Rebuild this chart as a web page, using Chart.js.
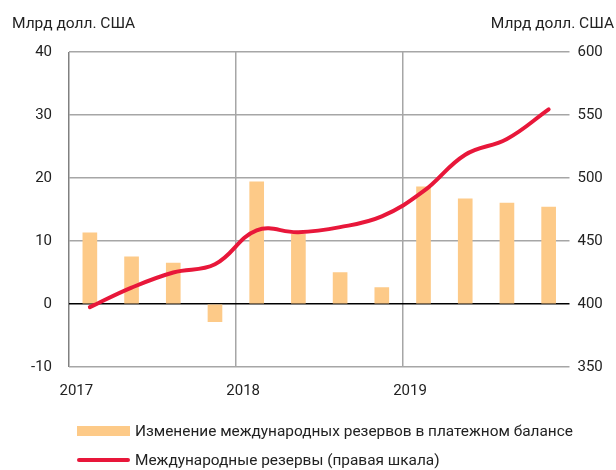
<!DOCTYPE html>
<html>
<head>
<meta charset="utf-8">
<script src="https://cdn.jsdelivr.net/npm/chart.js@4/dist/chart.umd.min.js"></script>
<style>
  body { margin: 0; background: #fff; }
  #wrap { position: relative; width: 616px; height: 470px; font-family: Roboto, sans-serif; color: #222; }
  .legend { position: absolute; left: 77px; font-size: 15.4px; display: flex; align-items: center; white-space: nowrap; }
  .legend span.key { display: inline-block; width: 53px; margin-right: 5px; }
</style>
</head>
<body>
<div id="wrap">
  <canvas id="grafico" width="616" height="470"></canvas>
  <div class="legend" id="leg1" style="top:422px"><span class="key" style="height:10px;background:#fdca88"></span><span id="leg1txt"></span></div>
  <div class="legend" id="leg2" style="top:451px"><span class="key" style="height:4px;border-radius:2px;background:#e8173a"></span><span id="leg2txt"></span></div>
</div>
<script>
// Кварталы 2017-2019
const kvartaly = ['I 2017', 'II 2017', 'III 2017', 'IV 2017',
                  'I 2018', 'II 2018', 'III 2018', 'IV 2018',
                  'I 2019', 'II 2019', 'III 2019', 'IV 2019'];
const gody = ['2017', '2018', '2019'];

// Изменение резервов по платежному балансу, млрд долл.
const izmenenie = [11.3, 7.5, 6.5, -2.8, 19.4, 11.1, 5.0, 2.6, 18.6, 16.7, 16.0, 15.4];
// Международные резервы, млрд долл. (правая шкала)
const rezervy = [397.5, 413, 425, 431.5, 458.5, 457, 461, 469.5, 489.5, 518.5, 531, 554.5];

const nazvanieBar = 'Изменение международных резервов в платежном балансе';
const nazvanieLine = 'Международные резервы (правая шкала)';
const edinicy = 'Млрд долл. США';

document.getElementById('leg1txt').textContent = nazvanieBar;
document.getElementById('leg2txt').textContent = nazvanieLine;

const shrift = { family: 'Roboto', size: 15 };

// подписи единиц над осями
const podpisi = {
  id: 'podpisi',
  afterDraw(chart) {
    const c = chart.ctx;
    c.save();
    c.font = '15.5px Roboto';
    c.fillStyle = '#222';
    c.textBaseline = 'alphabetic';
    c.textAlign = 'left';
    c.fillText(edinicy, 12, 28);
    c.textAlign = 'right';
    c.fillText(edinicy, 614, 28);
    c.restore();
  }
};

const ctx = document.getElementById('grafico').getContext('2d');
new Chart(ctx, {
  data: {
    labels: kvartaly,
    datasets: [
      {
        type: 'line',
        label: nazvanieLine,
        data: rezervy,
        yAxisID: 'y2',
        borderColor: '#e8173a',
        borderWidth: 4,
        borderCapStyle: 'round',
        pointRadius: 0,
        tension: 0.4,
        order: 0
      },
      {
        type: 'bar',
        label: nazvanieBar,
        data: izmenenie,
        yAxisID: 'y',
        backgroundColor: '#fdca88',
        barThickness: 14,
        order: 1
      }
    ]
  },
  options: {
    responsive: false,
    animation: false,
    devicePixelRatio: 1,
    layout: { padding: { top: 52, bottom: 73, left: 0, right: 0 } },
    plugins: { legend: { display: false }, tooltip: { enabled: false } },
    scales: {
      x: {
        offset: true,
        grid: {
          offset: true,
          drawTicks: false,
          lineWidth: 1.5,
          color: c => (c.index % 4 === 0 ? (c.index === 0 ? '#808080' : '#a6a6a6') : 'rgba(0,0,0,0)')
        },
        border: { display: false },
        ticks: {
          autoSkip: false,
          maxRotation: 0,
          padding: 15,
          labelOffset: -13.5,
          color: '#222',
          font: shrift,
          callback: (v, i) => (i % 4 === 0 ? gody[i / 4] : '')
        },
        afterFit: s => { s.height = 30; }
      },
      y: {
        position: 'left',
        min: -10,
        max: 40,
        ticks: { stepSize: 10, padding: 17, color: '#222', font: shrift },
        grid: {
          drawTicks: false,
          lineWidth: 1.5,
          color: c => (c.tick && c.tick.value === 0 ? '#000' : '#a6a6a6')
        },
        border: { display: false },
        afterFit: s => { s.width = 69; }
      },
      y2: {
        position: 'right',
        min: 350,
        max: 600,
        ticks: { stepSize: 50, padding: 8, color: '#222', font: shrift },
        grid: { display: false, drawTicks: false },
        border: { display: false },
        afterFit: s => { s.width = 46.5; }
      }
    }
  },
  plugins: [podpisi]
});
</script>
</body>
</html>
